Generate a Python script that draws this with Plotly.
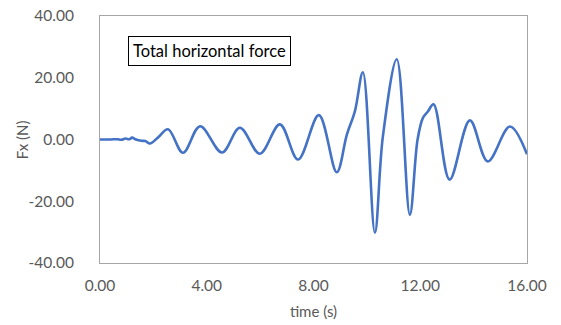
import plotly.graph_objects as go

# time history of total horizontal force
time_s = [0.0, 0.4, 0.65, 0.8, 0.95, 1.1, 1.2, 1.35, 1.55, 1.7, 1.87, 2.17,
          2.55, 3.11, 3.75, 4.57, 5.24, 5.99, 6.74, 7.42, 8.2, 8.87,
          9.25, 9.55, 9.85, 10.3, 10.6, 11.12, 11.61, 11.9, 12.1, 12.28, 12.5,
          13.1, 13.86, 14.53, 15.36, 16.0]
fx_n = [0.0, 0.0, 0.1, -0.1, 0.3, 0.1, 0.6, 0.0, -0.4, -0.5, -1.3, 0.6,
        3.3, -4.3, 4.3, -4.2, 3.8, -4.6, 4.9, -6.5, 7.9, -10.6,
        1.6, 9.1, 21.8, -30.2, 1.0, 26.0, -24.4, 0.0, 7.0, 9.0, 11.4,
        -13.0, 6.2, -7.1, 4.2, -4.8]

x_ticks = [0, 4, 8, 12, 16]
y_ticks = [-40, -20, 0, 20, 40]

FONT = "Lato"
GREY = "#595959"

fig = go.Figure()
fig.add_trace(go.Scatter(x=time_s, y=fx_n, mode="lines",
                         line=dict(color="#4472C4", width=2.6, shape="spline", smoothing=1.0),
                         showlegend=False))

fig.update_layout(
    width=561, height=325,
    margin=dict(l=100, r=34, t=16, b=62),
    paper_bgcolor="white", plot_bgcolor="white",
    font=dict(family=FONT, size=15.5, color=GREY),
)
fig.update_xaxes(range=[0, 16], tickvals=x_ticks,
                 ticktext=[f"{v:.2f}" for v in x_ticks],
                 showgrid=False, zeroline=False, automargin=False,
                 showline=True, linecolor="#a6a6a6", mirror=True, linewidth=1,
                 ticks="", ticklabelstandoff=8,
                 title=dict(text="time (s)", font=dict(size=15, color=GREY), standoff=13))
fig.update_yaxes(range=[-40, 40], tickvals=y_ticks,
                 ticktext=[f"{v:.2f}" for v in y_ticks],
                 showgrid=False, zeroline=False, automargin=False,
                 showline=True, linecolor="#a6a6a6", mirror=True, linewidth=1,
                 ticks="", ticklabelstandoff=22)

# y title placed by hand, plotly puts it too far left with automargin off
fig.add_annotation(text="Fx (N)", xref="paper", yref="paper", x=-0.183, y=0.5,
                   textangle=-90, showarrow=False, xanchor="center", yanchor="middle",
                   font=dict(family=FONT, size=15, color=GREY))

fig.add_annotation(text="Total horizontal force", xref="paper", yref="paper",
                   x=0.066, y=0.919, xanchor="left", yanchor="top", showarrow=False,
                   font=dict(family=FONT, size=16.5, color="black"),
                   bordercolor="black", borderwidth=1, borderpad=4, bgcolor="white")

# browser default body margin would shift the figure 8px in
fig.write_html("out.html", config={"displayModeBar": False},
               post_script="document.body.style.margin = '0';")
